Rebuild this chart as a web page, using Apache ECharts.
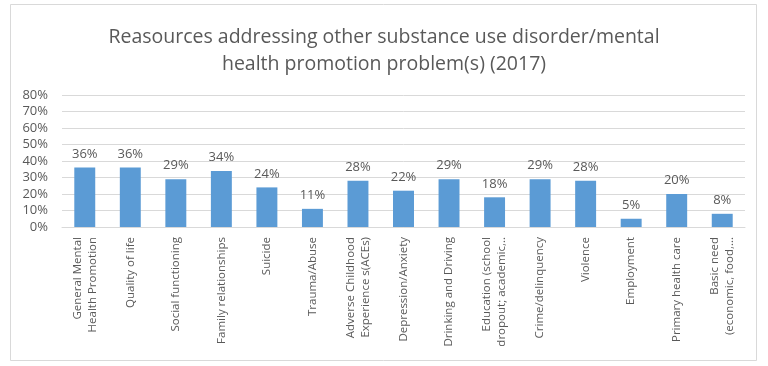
<!DOCTYPE html>
<html><head><meta charset="utf-8">
<script src="https://cdn.jsdelivr.net/npm/echarts@6/dist/echarts.min.js"></script>
<style>html,body{margin:0;padding:0;background:#fff}#c{width:768px;height:366px}</style>
</head><body><div id="c"></div>
<script>
const titleText = "Reasources addressing other substance use disorder/mental\nhealth promotion problem(s) (2017)";
const categories = [
  "General Mental\nHealth Promotion", "Quality of life", "Social functioning", "Family relationships",
  "Suicide", "Trauma/Abuse", "Adverse Childhood\nExperience s(ACEs)", "Depression/Anxiety",
  "Drinking and Driving", "Education (school\ndropout; academic,..", "Crime/delinquency", "Violence",
  "Employment", "Primary health care", "Basic need\n(economic, food,..."
];
const values = [36, 36, 29, 34, 24, 11, 28, 22, 29, 18, 29, 28, 5, 20, 8];
const yTicks = { min: 0, max: 80, interval: 10 };

const chart = echarts.init(document.getElementById('c'), null, {renderer: 'canvas'});
const font = "'Open Sans', 'Noto Sans', sans-serif";
chart.setOption({
  animation: false,
  backgroundColor: '#fff',
  title: {
    text: titleText, left: 'center', top: 19,
    textStyle: { fontFamily: font, fontSize: 19.5, fontWeight: 'normal', color: '#595959', lineHeight: 27 }
  },
  graphic: [{
    type: 'rect', shape: { x: 10.5, y: 4.5, width: 746, height: 356 },
    style: { fill: 'none', stroke: '#d9d9d9', lineWidth: 1 }, silent: true
  }],
  grid: { left: 62, right: 23, top: 95, bottom: 139 },
  xAxis: {
    type: 'category', data: categories,
    axisLine: { lineStyle: { color: '#d9d9d9' } },
    axisTick: { show: false },
    axisLabel: { rotate: 90, interval: 0, color: '#595959', fontFamily: font, fontSize: 11.5, lineHeight: 15, margin: 10 }
  },
  yAxis: {
    type: 'value', min: yTicks.min, max: yTicks.max, interval: yTicks.interval,
    axisLabel: { formatter: v => v + '%', color: '#595959', fontFamily: font, fontSize: 13, margin: 14 },
    splitLine: { lineStyle: { color: '#d9d9d9' } },
    axisLine: { show: false }, axisTick: { show: false }
  },
  series: [{
    type: 'bar', data: values, barWidth: '46%',
    itemStyle: { color: '#5b9bd5' },
    label: { show: true, position: 'top', formatter: p => p.value + '%', color: '#595959', fontFamily: font, fontSize: 13, distance: 7 }
  }]
});
</script></body></html>
